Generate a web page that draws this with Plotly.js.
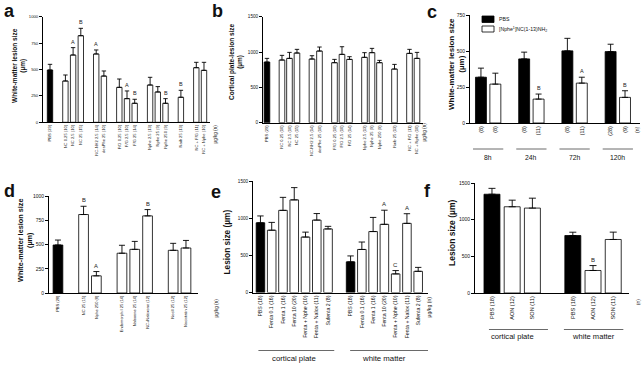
<!DOCTYPE html>
<html><head><meta charset="utf-8">
<script src="https://cdn.plot.ly/plotly-3.0.1.min.js"></script>
<style>html,body{margin:0;padding:0;background:#fff}</style>
</head><body>
<div id="chart" style="width:642px;height:376px"></div>
<script>
// ---------- DATA ----------
// Panel a: white-matter lesion size
const aLabels  = ["PBS (29)","NC 0.25 (10)","NC 2.5 (10)","NC 25 (15)","NC-NH2 2.5 (14)","desPhe 25 (10)","F/G 0.25 (10)","F/G 2.5 (10)","F/G 25 (14)","Nphe 2.5 (13)","Nphe 25 (9)","Nphe 250 (9)","Naib 25 (13)","NC + F/G (11)","NC + Nphe (10)"];
const aGroups  = [0,1,1,1,2,2,3,3,3,4,4,4,5,6,6];
const aValues  = [495,391,637,820,647,438,331,224,180,353,287,180,237,517,492];
const aErrors  = [54,57,70,70,38,48,79,73,38,73,51,44,66,51,76];
const aLetters = ["","","A","B","A","","","A","B","","","B","B","",""];
// Panel b: cortical plate lesion size (same groups as a)
const bLabels  = aLabels;
const bGroups  = aGroups;
const bValues  = [858,887,910,986,901,1014,849,967,896,925,991,849,759,981,910];
const bErrors  = [52,66,85,52,47,57,47,108,38,66,61,33,66,57,85];
const bLetters = ["","","","","","","","","","","","","","",""];
// Panel c: time course
const cTimes     = ["8h","24h","72h","120h"];
const cPbs       = [318,445,501,496];
const cPbsErr    = [63,47,87,51];
const cPbsN      = ["(8)","(8)","(8)","(28)"];
const cNphe      = [270,166,277,178];
const cNpheErr   = [76,35,41,46];
const cNpheN     = ["(8)","(11)","(11)","(9)"];
const cNpheLet   = ["","B","A","B"];
const cSeries    = ["PBS","[Nphe<sup>1</sup>]NC(1-13)NH<sub>2</sub>"];
// Panel d
const dLabels  = ["PBS (28)","NC 25 (15)","Nphe 250 (8)","Endomorph I 25 (14)","Naloxone 25 (14)","NC+Naloxone (12)","NocII 25 (12)","Nocistatin 25 (12)"];
const dGroups  = [0,1,1,2,2,2,3,3];
const dValues  = [495,809,177,410,450,795,440,464];
const dErrors  = [51,85,44,82,82,65,72,78];
const dLetters = ["","B","A","","","B","",""];
// Panel e
const eRegions    = ["cortical plate","white matter"];
const eTreatments = ["PBS (18)","Fenta 0.1 (16)","Fenta 1 (16)","Fenta 10 (20)","Fenta + Nphe (10)","Fenta + Nalox (11)","Sufenta 2 (8)"];
const eCortical   = [938,838,1105,1246,746,974,855];
const eCorticalErr= [92,105,175,165,66,88,35];
const eCorticalLet= ["","","","","","",""];
const eWhite      = [412,579,820,917,250,930,285];
const eWhiteErr   = [80,100,190,190,45,130,53];
const eWhiteLet   = ["","","","A","C","A",""];
// Panel f
const fRegions    = ["cortical plate","white matter"];
const fTreatments = ["PBS (18)","AON (12)","SON (11)"];
const fCortical   = [1347,1176,1158];
const fCorticalErr= [80,90,135];
const fWhite      = [784,307,730];
const fWhiteErr   = [45,67,100];
const fWhiteLet   = ["","B",""];

// ---------- LAYOUT HELPERS ----------
const W=642,H=376;
const fx = px => px/W;
const fy = py => 1 - py/H;
const FONT = 'Liberation Sans, Arial, Helvetica, sans-serif';

const traces=[], annotations=[], shapes=[], layout={};

function flat(prefix, labels, groups, values, errors, letters){
  const x=[],y=[],err=[],col=[],tv=[],tt=[],let_=[];
  let g=0;
  labels.forEach((lab,i)=>{
    if(i>0 && groups[i]!==groups[i-1]){x.push(prefix+'gap'+(g++));y.push(null);err.push(null);col.push('white');let_.push('');}
    const id=prefix+i;
    x.push(id);y.push(values[i]);err.push(errors[i]);col.push(lab.startsWith('PBS')?'black':'white');let_.push(letters[i]);
    tv.push(id);tt.push(lab);
  });
  return {x,y,err,col,tv,tt,let_};
}

function addAxes(n, spec){
  const xk = n===1?'xaxis':'xaxis'+n, yk = n===1?'yaxis':'yaxis'+n;
  const xs = n===1?'x':'x'+n, ys = n===1?'y':'y'+n;
  layout[xk] = {domain:[fx(spec.xd[0]),fx(spec.xd[1])], anchor:ys, type:'category',
    categoryorder:'array', categoryarray:spec.cats, range:spec.xr,
    tickmode:'array', tickvals:spec.tv, ticktext:spec.tt, tickangle:-90,
    tickfont:{size:spec.xfs,color:'#111',family:FONT}, showline:true, linecolor:'black', linewidth:1,
    ticks:'', showgrid:false, zeroline:false, fixedrange:true, automargin:false};
  layout[yk] = {domain:[fy(spec.yd[1]),fy(spec.yd[0])], anchor:xs, range:spec.yr,
    tickmode:'array', tickvals:spec.ytv, tickfont:{size:spec.yfs,color:'#111',family:FONT},
    showline:true, linecolor:'black', linewidth:1, ticks:'outside', ticklen:3, tickwidth:1,
    tickcolor:'black', showgrid:false, zeroline:false, fixedrange:true, automargin:false};
  return {xs,ys};
}

function barTrace(ax, x, y, err, col, w, cap, name){
  return {type:'bar', x, y, xaxis:ax.xs, yaxis:ax.ys, width:w, name:name||'',
    marker:{color:col, line:{color:'black',width:0.8}},
    error_y:{type:'data',symmetric:false,array:err,arrayminus:err.map(()=>0),color:'black',thickness:0.9,width:cap},
    showlegend:false, hoverinfo:'skip'};
}

function letterAnns(ax, x, y, err, lets, size){
  x.forEach((id,i)=>{ if(lets[i]) annotations.push({xref:ax.xs,yref:ax.ys,x:id,y:y[i]+err[i],text:lets[i],
     showarrow:false,yanchor:'bottom',yshift:1,font:{size,family:FONT,color:'#222'}}); });
}

function flatPanel(n, prefix, d, spec, letSize){
  const ax = addAxes(n, Object.assign({}, spec, {cats:d.x, tv:d.tv, tt:d.tt}));
  traces.push(barTrace(ax, d.x, d.y, d.err, d.col, spec.w, spec.cap));
  letterAnns(ax, d.x, d.y, d.err, d.let_, letSize);
  return ax;
}

// Panel a
const dA = flat('a', aLabels, aGroups, aValues, aErrors, aLetters);
flatPanel(1,'a',dA,{xd:[43,210],yd:[16.7,122.3],yr:[0,1000],ytv:[0,250,500,750,1000],xr:[-0.91,20.78],xfs:4.1,yfs:4.2,w:0.7,cap:2.2},5.5);
// Panel b
const dB = flat('b', bLabels, bGroups, bValues, bErrors, bLetters);
flatPanel(2,'b',dB,{xd:[263,423],yd:[16.7,122.7],yr:[0,1500],ytv:[0,500,1000,1500],xr:[-0.53,20.8],xfs:4.1,yfs:4.6,w:0.75,cap:2.2},5.5);

// Panel c
(function(){
  const cats=[], tv=[], tt=[], pbsX=[], npheX=[];
  cTimes.forEach((t,i)=>{
    if(i>0) cats.push('cgap'+i);
    const p='cP'+i, q='cN'+i;
    cats.push(p,q); pbsX.push(p); npheX.push(q);
    tv.push(p,q); tt.push(cPbsN[i], cNpheN[i]);
  });
  const ax = addAxes(3,{xd:[470,640],yd:[15,123],yr:[0,750],ytv:[0,250,500,750],xr:[-0.76,11.04],
    xfs:5.4,yfs:5,cats,tv,tt});
  traces.push(barTrace(ax,pbsX,cPbs,cPbsErr,'black',0.76,3,cSeries[0]));
  traces.push(barTrace(ax,npheX,cNphe,cNpheErr,'white',0.76,3,cSeries[1]));
  letterAnns(ax,npheX,cNphe,cNpheErr,cNpheLet,5.5);
  cTimes.forEach((t,i)=>{
    const c0 = cats.indexOf(pbsX[i]), c1 = cats.indexOf(npheX[i]);
    const mid=(c0+c1)/2;
    shapes.push({type:'line',xref:ax.xs,yref:'paper',x0:mid-1.05,x1:mid+1.05,y0:fy(149),y1:fy(149),line:{color:'#444',width:0.8}});
    annotations.push({xref:ax.xs,yref:'paper',x:mid,y:fy(157.5),text:t,showarrow:false,xanchor:'center',yanchor:'middle',
      font:{size:6.8,family:FONT,color:'#111'}});
  });
  shapes.push({type:'rect',xref:'paper',yref:'paper',x0:fx(482),x1:fx(494),y0:fy(22.5),y1:fy(16),fillcolor:'black',line:{color:'black',width:0.8}});
  shapes.push({type:'rect',xref:'paper',yref:'paper',x0:fx(482),x1:fx(494),y0:fy(32),y1:fy(26),fillcolor:'white',line:{color:'black',width:0.8}});
  annotations.push({xref:'paper',yref:'paper',x:fx(497),y:fy(19),text:cSeries[0],showarrow:false,xanchor:'left',yanchor:'middle',font:{size:5.2,family:FONT,color:'#111'}});
  annotations.push({xref:'paper',yref:'paper',x:fx(497),y:fy(29),text:cSeries[1],showarrow:false,xanchor:'left',yanchor:'middle',font:{size:5.2,family:FONT,color:'#111'}});
})();

// Panel d
const dD = flat('d', dLabels, dGroups, dValues, dErrors, dLetters);
flatPanel(4,'d',dD,{xd:[49,198],yd:[196,293],yr:[0,1000],ytv:[0,250,500,750,1000],xr:[-0.7,10.94],xfs:4,yfs:5,w:0.76,cap:3},5.8);

// Panel e
(function(){
  const labels=[], groups=[], vals=[], errs=[], lets=[];
  eTreatments.forEach((t,i)=>{labels.push(t);groups.push(0);vals.push(eCortical[i]);errs.push(eCorticalErr[i]);lets.push(eCorticalLet[i]);});
  eTreatments.forEach((t,i)=>{labels.push(t);groups.push(1);vals.push(eWhite[i]);errs.push(eWhiteErr[i]);lets.push(eWhiteLet[i]);});
  const d = flat('e', labels, groups, vals, errs, lets);
  const ax = flatPanel(5,'e',d,{xd:[253,428],yd:[181,292.5],yr:[0,1500],ytv:[0,500,1000,1500],xr:[-0.66,14.87],xfs:5.2,yfs:4.6,w:0.76,cap:3.2},6);
  const n=eTreatments.length;
  const spans=[[-0.18,n-1+0.55],[n+1-0.04,2*n+0.9]];
  eRegions.forEach((r,i)=>{
    shapes.push({type:'line',xref:ax.xs,yref:'paper',x0:spans[i][0],x1:spans[i][1],y0:fy(350.5),y1:fy(350.5),line:{color:'#444',width:0.8}});
    const mid = i===0 ? (n-1)/2 : (n+1)+(n-1)/2;
    annotations.push({xref:ax.xs,yref:'paper',x:mid,y:fy(358),text:r,showarrow:false,xanchor:'center',yanchor:'middle',font:{size:7.8,family:FONT,color:'#111'}});
  });
})();

// Panel f
(function(){
  const labels=[], groups=[], vals=[], errs=[], lets=[];
  fTreatments.forEach((t,i)=>{labels.push(t);groups.push(0);vals.push(fCortical[i]);errs.push(fCorticalErr[i]);lets.push('');});
  fTreatments.forEach((t,i)=>{labels.push(t);groups.push(1);vals.push(fWhite[i]);errs.push(fWhiteErr[i]);lets.push(fWhiteLet[i]);});
  const d = flat('f', labels, groups, vals, errs, lets);
  const ax = flatPanel(6,'f',d,{xd:[475,629],yd:[183,293],yr:[0,1500],ytv:[0,500,1000,1500],xr:[-0.84,6.78],xfs:5.6,yfs:5,w:0.79,cap:3.5},6);
  const n=fTreatments.length;
  const spans=[[-0.15,2.77],[3.56,6.5]];
  fRegions.forEach((r,i)=>{
    shapes.push({type:'line',xref:ax.xs,yref:'paper',x0:spans[i][0],x1:spans[i][1],y0:fy(329.5),y1:fy(329.5),line:{color:'#444',width:0.8}});
    const mid = i===0 ? (n-1)/2 : (n+1)+(n-1)/2;
    annotations.push({xref:ax.xs,yref:'paper',x:mid,y:fy(336.5),text:r,showarrow:false,xanchor:'center',yanchor:'middle',font:{size:7.6,family:FONT,color:'#111'}});
  });
})();

// y-axis titles
function ytitle(x,y,text,size){
  annotations.push({xref:'paper',yref:'paper',x:fx(x),y:fy(y),text,textangle:-90,showarrow:false,
    xanchor:'center',yanchor:'middle',font:{size,family:FONT,color:'#111'}});
}
ytitle(19,66,'<b>White-matter lesion size<br>(µm)</b>',6.5);
ytitle(236,62,'<b>Cortical plate-lesion size<br>(µm)</b>',6.5);
ytitle(456,64,'<b>White-matter lesion size<br>(µm)</b>',8);
ytitle(25,240,'<b>White-matter lesion size<br>(µm)</b>',7.3);
ytitle(226,242.5,'<b>Lesion size (µm)</b>',8.3);
ytitle(452,233,'<b>Lesion size (µm)</b>',8.5);

// unit notes
function unit(x,ytop,text,size){
  annotations.push({xref:'paper',yref:'paper',x:fx(x),y:fy(ytop),text,textangle:-90,showarrow:false,
    xanchor:'center',yanchor:'top',font:{size,family:FONT,color:'#222'}});
}
unit(215,123,'µg/kg (n)',4.6);
unit(424,121,'µg/kg (n)',4.6);
unit(637,125,'(n)',5);
unit(216,297,'µg/kg (n)',4.6);
unit(428,295,'µg/kg (n)',5.2);
unit(638,297,'(n)',4.8);

// panel letters
[['a',9.5,10.5],['b',217.5,11],['c',432,12],['d',9,191],['e',215.5,192],['f',427,191]].forEach(([t,x,y])=>{
  annotations.push({xref:'paper',yref:'paper',x:fx(x),y:fy(y),text:'<b>'+t+'</b>',showarrow:false,
    xanchor:'center',yanchor:'middle',font:{size:18,family:FONT,color:'#111'}});
});

Object.assign(layout,{width:W,height:H,margin:{l:0,r:0,t:0,b:0},paper_bgcolor:'white',plot_bgcolor:'rgba(0,0,0,0)',
  barmode:'overlay',showlegend:false,font:{family:FONT,color:'#111'},annotations,shapes});

Plotly.newPlot('chart',traces,layout,{staticPlot:true,displayModeBar:false});
</script>
</body></html>
